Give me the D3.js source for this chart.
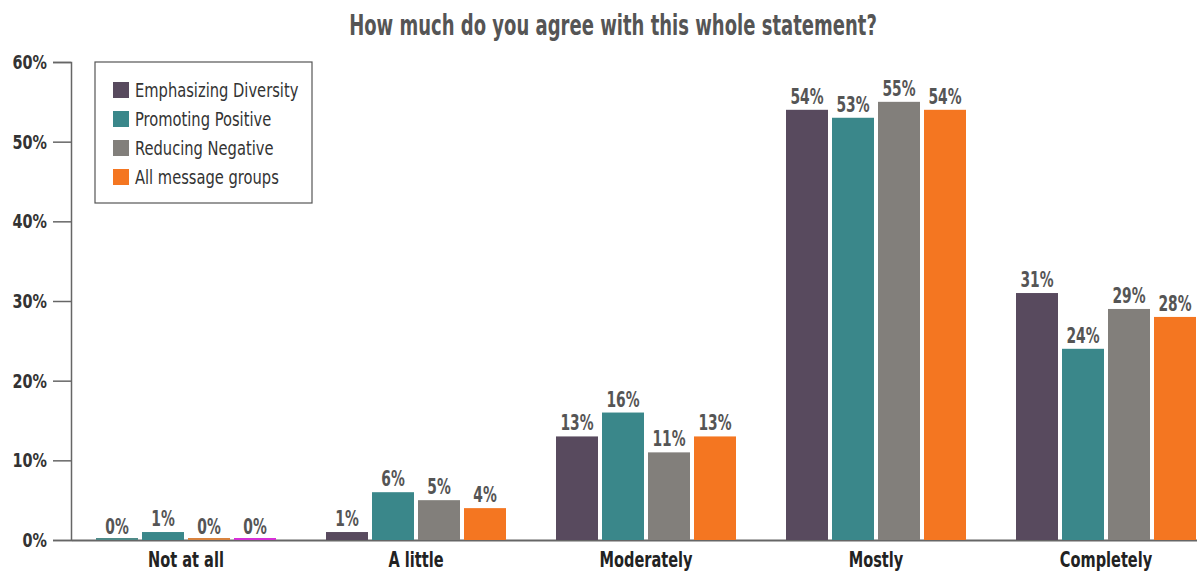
<!DOCTYPE html>
<html>
<head>
<meta charset="utf-8">
<script src="https://cdn.jsdelivr.net/npm/d3@7"></script>
<style>
  body { margin: 0; background: #fff; }
  text { font-family: "DejaVu Sans Condensed", "DejaVu Sans", sans-serif; }
</style>
</head>
<body>
<div class="canvas"></div>
<script>
// data
const categories = ['Not at all', 'A little', 'Moderately', 'Mostly', 'Completely']
const seriesNames = ['Emphasizing Diversity', 'Promoting Positive', 'Reducing Negative', 'All message groups']
const emphasizing = [0, 1, 13, 54, 31]
const promoting = [1, 6, 16, 53, 24]
const reducing = [0, 5, 11, 55, 29]
const allGroups = [0, 4, 13, 54, 28]
const yTicks = [0, 10, 20, 30, 40, 50, 60]

const colors = ['#584a5e', '#3a878a', '#827f7b', '#f47621']
// zero height bars show up as thin coloured lines in the original
const zeroColors = ['#4f8a88', '#3a878a', '#d8833f', '#d630d6']

const svgWidth = 1197
const svgHeight = 573
const margin = {top: 62, left: 71, bottom: 33}

const svg = d3.select('.canvas')
    .append('svg')
    .attr('width', svgWidth)
    .attr('height', svgHeight)

// the original font is a narrow DIN-like face, so squeeze text horizontally
const squeeze = (sel, k) => {
    sel.each(function() {
        const t = d3.select(this)
        const tx = +t.attr('x') || 0
        const ty = +t.attr('y') || 0
        t.attr('x', 0).attr('y', 0)
            .attr('transform', `translate(${tx},${ty}) scale(${k},1)`)
    })
}

const seriesValues = [emphasizing, promoting, reducing, allGroups]
const data = categories.map((c, i) => ({
    category: c,
    values: seriesNames.map((s, j) => ({series: j, value: seriesValues[j][i]}))
}))

// scales - the plot runs a bit past the right edge, like the original
const x = d3.scaleBand()
    .domain(categories)
    .range([margin.left, margin.left + 1150])
    .paddingInner(50 / 230)
    .paddingOuter(25 / 230)

const xInner = d3.scaleBand()
    .domain(d3.range(seriesNames.length))
    .range([0, x.bandwidth()])
    .paddingInner(4 / 46)

const y = d3.scaleLinear()
    .domain([0, 60])
    .range([svgHeight - margin.bottom, margin.top])

// title
svg.append('text')
    .attr('x', 613)
    .attr('y', 35)
    .attr('text-anchor', 'middle')
    .attr('font-size', '28px')
    .attr('font-weight', 'bold')
    .attr('fill', '#555')
    .text('How much do you agree with this whole statement?')
    .call(squeeze, 0.715)

// y axis
const yAxis = d3.axisLeft(y)
    .tickValues(yTicks)
    .tickSize(18)
    .tickPadding(6)
    .tickFormat(d => d + '%')

const yAxisGroup = svg.append('g')
    .attr('transform', `translate(${margin.left}, 0)`)
    .call(yAxis)

yAxisGroup.select('.domain').attr('stroke', '#666').attr('stroke-width', 1.5)
yAxisGroup.selectAll('.tick line').attr('stroke', '#666').attr('stroke-width', 1.5)
yAxisGroup.selectAll('text')
    .attr('font-size', '20px')
    .attr('font-weight', 'bold')
    .attr('fill', '#333')
    .attr('font-family', '"DejaVu Sans Condensed", sans-serif')
    .call(squeeze, 0.8)

// x axis
const xAxis = d3.axisBottom(x).tickSize(0).tickPadding(12)
const xAxisGroup = svg.append('g')
    .attr('transform', `translate(0, ${y(0)})`)
    .call(xAxis)

xAxisGroup.select('.domain').attr('stroke', '#666').attr('stroke-width', 2)
xAxisGroup.selectAll('text')
    .attr('font-size', '21px')
    .attr('font-weight', 'bold')
    .attr('fill', '#222')
    .attr('font-family', '"DejaVu Sans Condensed", sans-serif')
    .call(squeeze, 0.77)

// bars
const groups = svg.selectAll('g.group')
    .data(data)
    .enter()
    .append('g')
    .attr('class', 'group')
    .attr('transform', d => `translate(${x(d.category)}, 0)`)

groups.selectAll('rect')
    .data(d => d.values)
    .enter()
    .append('rect')
    .attr('x', d => xInner(d.series))
    .attr('width', xInner.bandwidth())
    .attr('y', d => d.value === 0 ? y(0) - 2 : y(d.value))
    .attr('height', d => d.value === 0 ? 2 : y(0) - y(d.value))
    .attr('fill', d => d.value === 0 ? zeroColors[d.series] : colors[d.series])

groups.selectAll('text.label')
    .data(d => d.values)
    .enter()
    .append('text')
    .attr('class', 'label')
    .attr('x', d => xInner(d.series) + xInner.bandwidth() / 2)
    .attr('y', d => y(d.value) - 6)
    .attr('text-anchor', 'middle')
    .attr('font-size', '22px')
    .attr('font-weight', 'bold')
    .attr('fill', '#555')
    .text(d => d.value + '%')
    .call(squeeze, 0.7)

// legend
const legend = svg.append('g').attr('transform', 'translate(95, 62)')
legend.append('rect')
    .attr('width', 217)
    .attr('height', 141)
    .attr('fill', '#fff')
    .attr('stroke', '#555')
    .attr('stroke-width', 1.2)

const items = legend.selectAll('g.item')
    .data(seriesNames)
    .enter()
    .append('g')
    .attr('transform', (d, i) => `translate(18, ${20 + i * 29})`)

items.append('rect')
    .attr('width', 16)
    .attr('height', 16)
    .attr('fill', (d, i) => colors[i])

items.append('text')
    .attr('x', 22)
    .attr('y', 15)
    .attr('font-size', '19px')
    .attr('fill', '#333')
    .text(d => d)
    .call(squeeze, 0.86)
</script>
</body>
</html>
